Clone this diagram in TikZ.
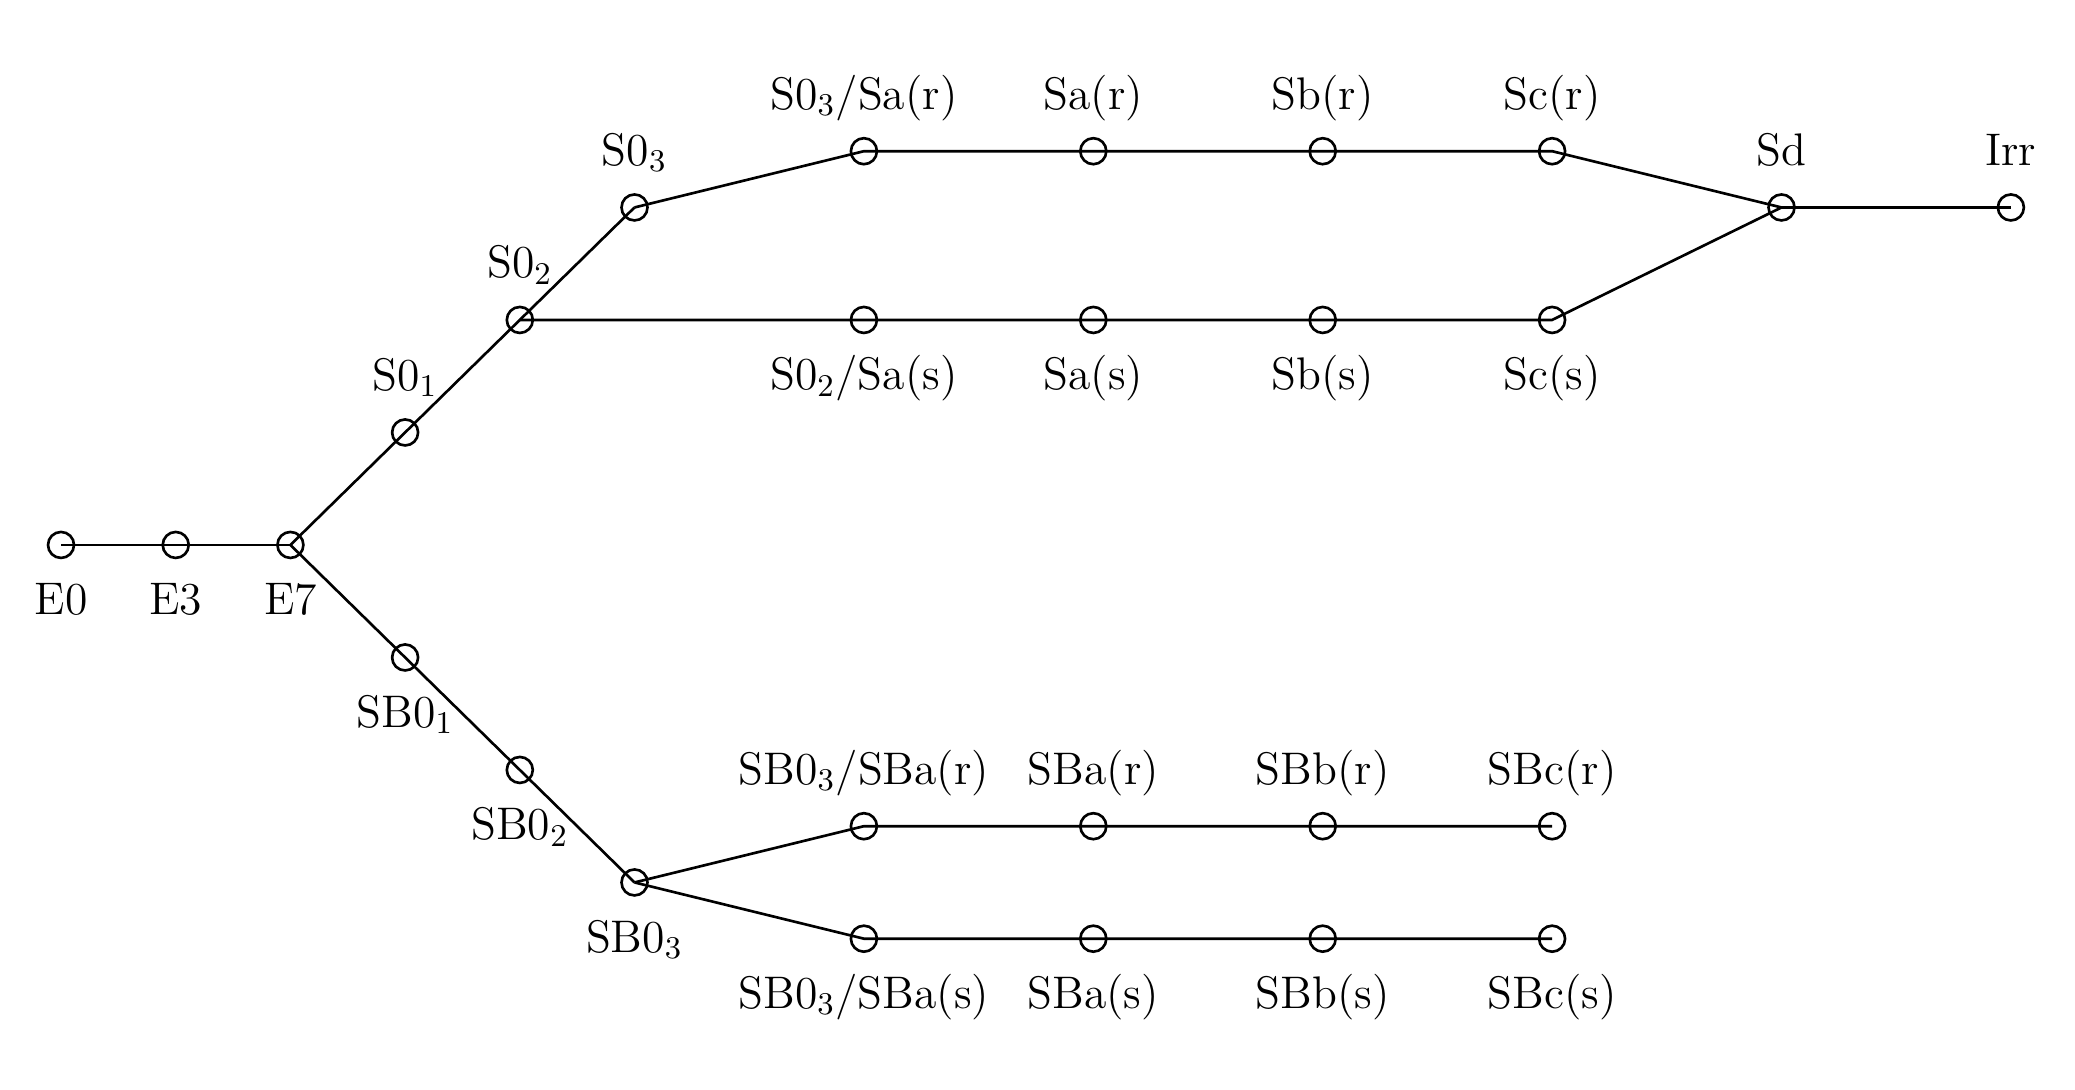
\documentclass[tikz,border=0pt]{standalone}
\usepackage{tikz}
\usetikzlibrary{positioning}

\begin{document}
\begin{tikzpicture}[
  x=1.147cm, y=1.125cm,
  st/.style={circle, draw, line width=0.75pt, minimum size=0.26cm, inner sep=0pt},
  lbl/.style={font=\fontsize{13}{15}\selectfont, text height=1.9ex, text depth=0.6ex, inner sep=0pt},
  lblb/.style={lbl, label distance=0.26cm},
  label distance=0.18cm,
  edge/.style={line width=0.75pt}
]
  \useasboundingbox (-0.532,-4.844) rectangle (17.559,4.844);

  % Main line
  \node[st, label={[lblb]below:E0}] (e0) at (0,0) {};
  \node[st, label={[lblb]below:E3}] (e3) at (1,0) {};
  \node[st, label={[lblb]below:E7}] (e7) at (2,0) {};

  % Upper branch
  \node[st, label={[lbl]above:S0$_1$}] (so1) at (3,1) {};
  \node[st, label={[lbl]above:S0$_2$}] (so2) at (4,2) {};
  \node[st, label={[lbl]above:S0$_3$}] (so3) at (5,3) {};
  \node[st, label={[lbl]above:S0$_3$/Sa(r)}] (sar0) at (7,3.5) {};
  \node[st, label={[lbl]above:Sa(r)}] (sar) at (9,3.5) {};
  \node[st, label={[lbl]above:Sb(r)}] (sbr) at (11,3.5) {};
  \node[st, label={[lbl]above:Sc(r)}] (scr) at (13,3.5) {};
  \node[st, label={[lblb]below:S0$_2$/Sa(s)}] (sas0) at (7,2) {};
  \node[st, label={[lblb]below:Sa(s)}] (sas) at (9,2) {};
  \node[st, label={[lblb]below:Sb(s)}] (sbs) at (11,2) {};
  \node[st, label={[lblb]below:Sc(s)}] (scs) at (13,2) {};
  \node[st, label={[lbl]above:Sd}] (sd) at (15,3) {};
  \node[st, label={[lbl]above:Irr}] (irr) at (17,3) {};

  % Lower branch
  \node[st, label={[lblb]below:SB0$_1$}] (sbo1) at (3,-1) {};
  \node[st, label={[lblb]below:SB0$_2$}] (sbo2) at (4,-2) {};
  \node[st, label={[lblb]below:SB0$_3$}] (sbo3) at (5,-3) {};
  \node[st, label={[lbl]above:SB0$_3$/SBa(r)}] (sbar0) at (7,-2.5) {};
  \node[st, label={[lbl]above:SBa(r)}] (sbar) at (9,-2.5) {};
  \node[st, label={[lbl]above:SBb(r)}] (sbbr) at (11,-2.5) {};
  \node[st, label={[lbl]above:SBc(r)}] (sbcr) at (13,-2.5) {};
  \node[st, label={[lblb]below:SB0$_3$/SBa(s)}] (sbas0) at (7,-3.5) {};
  \node[st, label={[lblb]below:SBa(s)}] (sbas) at (9,-3.5) {};
  \node[st, label={[lblb]below:SBb(s)}] (sbbs) at (11,-3.5) {};
  \node[st, label={[lblb]below:SBc(s)}] (sbcs) at (13,-3.5) {};

  % Connections
  \draw[edge] (e0.center) -- (e3.center) -- (e7.center);
  \draw[edge] (e7.center) -- (so1.center) -- (so2.center) -- (so3.center);
  \draw[edge] (so3.center) -- (sar0.center) -- (sar.center) -- (sbr.center) -- (scr.center) -- (sd.center) -- (irr.center);
  \draw[edge] (so2.center) -- (sas0.center) -- (sas.center) -- (sbs.center) -- (scs.center) -- (sd.center);
  \draw[edge] (e7.center) -- (sbo1.center) -- (sbo2.center) -- (sbo3.center);
  \draw[edge] (sbo3.center) -- (sbar0.center) -- (sbar.center) -- (sbbr.center) -- (sbcr.center);
  \draw[edge] (sbo3.center) -- (sbas0.center) -- (sbas.center) -- (sbbs.center) -- (sbcs.center);
\end{tikzpicture}
\end{document}
